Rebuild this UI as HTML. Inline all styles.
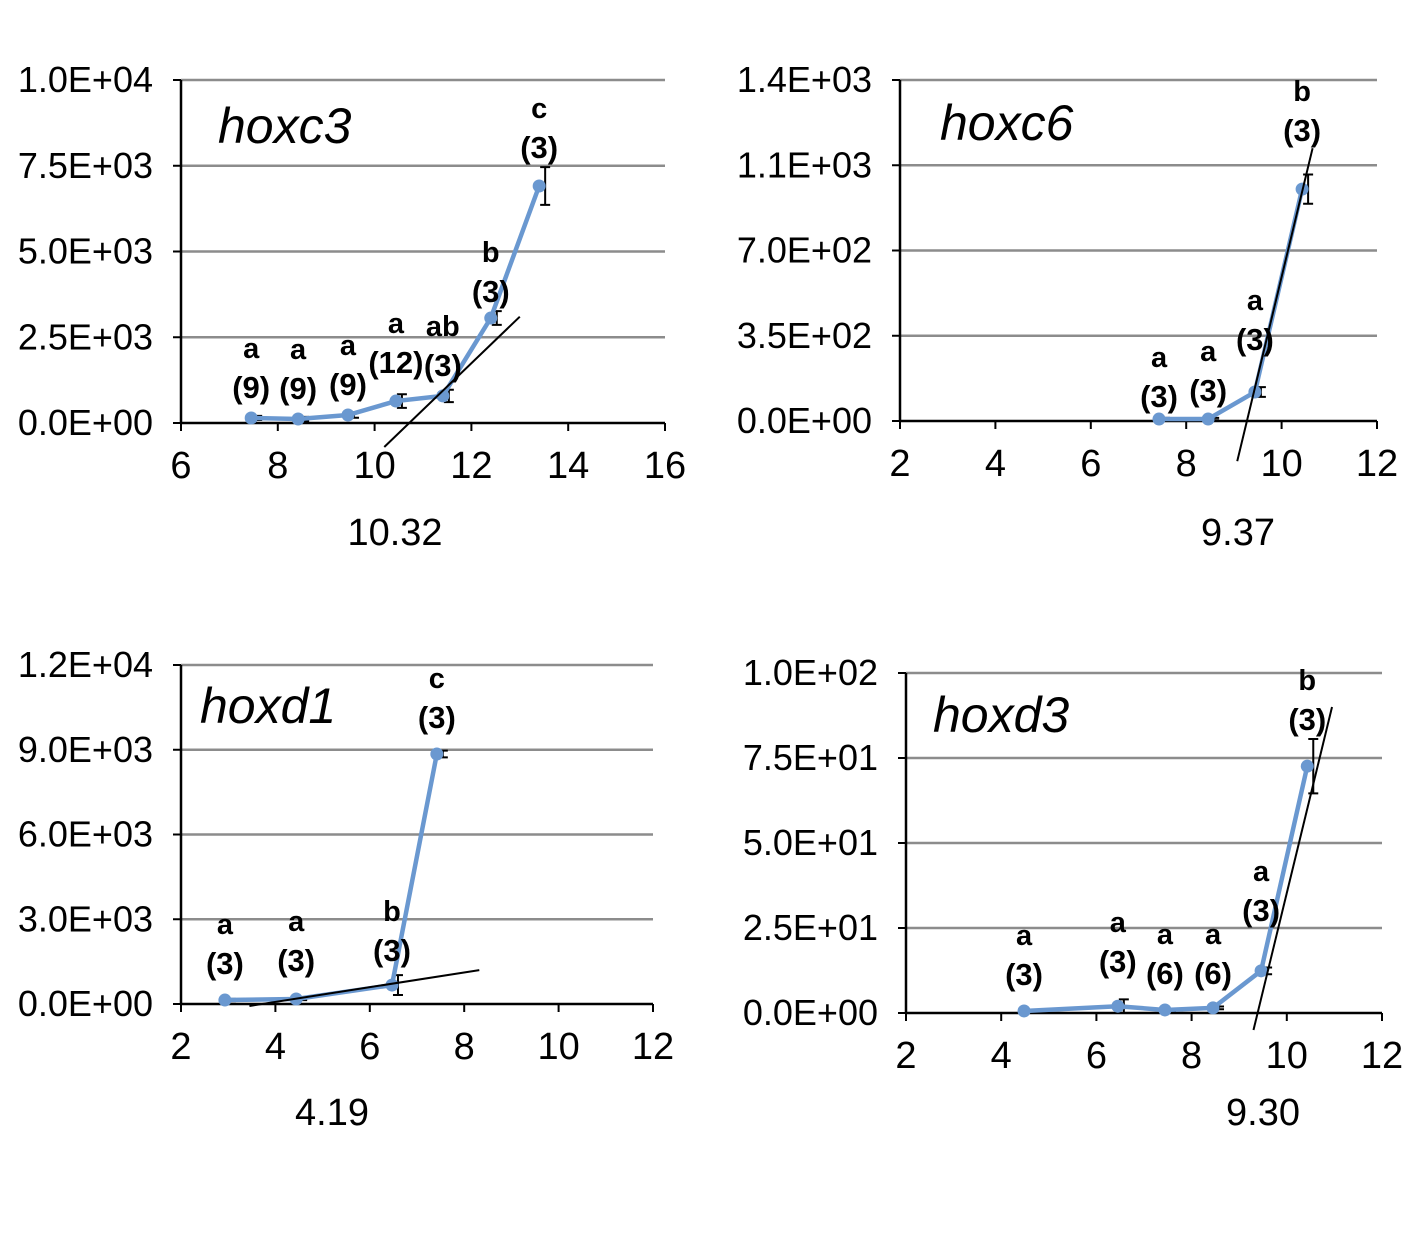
<!DOCTYPE html>
<html><head><meta charset="utf-8"><style>
body{margin:0;background:#fff;}
svg text{font-family:"Liberation Sans",sans-serif;}
</style></head><body>
<svg id="c" width="1418" height="1240"></svg>
<script>
// hoxc3
const c3X=[7.45,8.42,9.45,10.44,11.41,12.4,13.4];
const c3Y=[146,117,233,640,790,3060,6910];
const c3Err=[60,60,80,200,180,200,550];
const c3Let=["a","a","a","a","ab","b","c"];
const c3N=["(9)","(9)","(9)","(12)","(3)","(3)","(3)"];
const c3Ticks=["0.0E+00","2.5E+03","5.0E+03","7.5E+03","1.0E+04"];
// hoxc6
const c6X=[7.43,8.46,9.44,10.43];
const c6Y=[8,8,119,952];
const c6Err=[5,5,20,60];
const c6Let=["a","a","a","b"];
const c6N=["(3)","(3)","(3)","(3)"];
const c6Ticks=["0.0E+00","3.5E+02","7.0E+02","1.1E+03","1.4E+03"];
// hoxd1
const d1X=[2.93,4.44,6.47,7.42];
const d1Y=[140,177,670,8850];
const d1Err=[40,40,350,120];
const d1Let=["a","a","b","c"];
const d1N=["(3)","(3)","(3)","(3)"];
const d1Ticks=["0.0E+00","3.0E+03","6.0E+03","9.0E+03","1.2E+04"];
// hoxd3
const d3X=[4.48,6.45,7.44,8.45,9.46,10.43];
const d3Y=[0.6,2,0.9,1.5,12.4,72.6];
const d3Err=[0.3,2,0.3,0.4,1,8];
const d3Let=["a","a","a","a","a","b"];
const d3N=["(3)","(3)","(6)","(6)","(3)","(3)"];
const d3Ticks=["0.0E+00","2.5E+01","5.0E+01","7.5E+01","1.0E+02"];

const panels=[
 {name:"hoxc3",x0:181,x1:665,y0:423,y1:80,xmin:6,xmax:16,xstep:2,ymax:10000,X:c3X,Y:c3Y,E:c3Err,L:c3Let,N:c3N,T:c3Ticks,
  tan:[[10.2,-700],[13.0,3100]],val:"10.32",vx:395,vy:545,tx:218,ty:143,lift:[30,30,30,38,30,26,38]},
 {name:"hoxc6",x0:900,x1:1377,y0:421,y1:80,xmin:2,xmax:12,xstep:2,ymax:1400,X:c6X,Y:c6Y,E:c6Err,L:c6Let,N:c6N,T:c6Ticks,
  tan:[[9.07,-165],[10.65,1120]],val:"9.37",vx:1238,vy:545,tx:940,ty:140,lift:[22,28,52,58]},
 {name:"hoxd1",x0:181,x1:653,y0:1004,y1:665,xmin:2,xmax:12,xstep:2,ymax:12000,X:d1X,Y:d1Y,E:d1Err,L:d1Let,N:d1N,T:d1Ticks,
  tan:[[3.45,-70],[8.32,1200]],val:"4.19",vx:332,vy:1125,tx:200,ty:723,lift:[36,38,34,36]},
 {name:"hoxd3",x0:906,x1:1382,y0:1013,y1:673,xmin:2,xmax:12,xstep:2,ymax:100,X:d3X,Y:d3Y,E:d3Err,L:d3Let,N:d3N,T:d3Ticks,
  tan:[[9.3,-5],[10.95,90]],val:"9.30",vx:1263,vy:1125,tx:933,ty:732,lift:[36,44,36,34,60,46]}
];
const NS="http://www.w3.org/2000/svg";
const svg=document.getElementById('c');
function mk(tag,at,parent,txt){const e=document.createElementNS(NS,tag);for(const k in at)e.setAttribute(k,at[k]);if(txt!==undefined)e.textContent=txt;(parent||svg).appendChild(e);return e;}
panels.forEach(p=>{
 const g=mk('g',{});
 
 
 const sx=v=>p.x0+(v-p.xmin)/(p.xmax-p.xmin)*(p.x1-p.x0);
 const sy=v=>p.y0-v/p.ymax*(p.y0-p.y1);
 const nT=p.T.length-1;
 p.T.forEach((t,i)=>{
  const yy=p.y0-(p.y0-p.y1)*i/nT;
  if(i>0){const gl=mk('line',{x1:p.x0,x2:p.x1,y1:yy,y2:yy,stroke:'#8c8c8c','stroke-width':2.5},g);
   }
  mk('line',{x1:p.x0-8,x2:p.x0,y1:yy,y2:yy,stroke:'#000','stroke-width':2},g);
  const tl=mk('text',{x:p.x0-28,y:yy+12,'text-anchor':'end','font-size':36},g,t);
  
 });
 const ya=mk('line',{x1:p.x0,x2:p.x0,y1:p.y1,y2:p.y0,stroke:'#000','stroke-width':2.5},g);
 
 const xa=mk('line',{x1:p.x0,x2:p.x1,y1:p.y0,y2:p.y0,stroke:'#000','stroke-width':2.5},g);
 
 for(let v=p.xmin;v<=p.xmax;v+=p.xstep){
  const xx=sx(v);
  mk('line',{x1:xx,x2:xx,y1:p.y0,y2:p.y0+8,stroke:'#000','stroke-width':2},g);
  const xl=mk('text',{x:xx,y:p.y0+55,'text-anchor':'middle','font-size':38},g,String(v));
  
 }
 const ti=mk('text',{x:p.tx,y:p.ty,'font-size':50,'font-style':'italic'},g,p.name);
 
 const vl=mk('text',{x:p.vx,y:p.vy,'text-anchor':'middle','font-size':38},g,p.val);
 
 p.X.forEach((x,i)=>{
  const xx=sx(x),a=sy(p.Y[i]+p.E[i]),b=sy(Math.max(0,p.Y[i]-p.E[i]));
  const eb=mk('path',{d:`M${xx+6},${a}V${b}M${xx+1},${a}H${xx+11}M${xx+1},${b}H${xx+11}`,stroke:'#000','stroke-width':2,fill:'none'},g);
  
 });
 const ln=mk('polyline',{points:p.X.map((x,i)=>sx(x)+','+sy(p.Y[i])).join(' '),fill:'none',stroke:'#6a98d0','stroke-width':4.5},g);
 
 p.X.forEach((x,i)=>{
  const pt=mk('circle',{cx:sx(x),cy:sy(p.Y[i]),r:6.5,fill:'#6a98d0'},g);
  
  const ly=sy(p.Y[i])-p.lift[i];
  const nl=mk('text',{x:sx(x),y:ly+10,'text-anchor':'middle','font-size':31,'font-weight':'bold'},g,p.N[i]);
  
  const ll=mk('text',{x:sx(x),y:ly-30,'text-anchor':'middle','font-size':29,'font-weight':'bold'},g,p.L[i]);
  
 });
 const t=p.tan;
 const tl=mk('line',{x1:sx(t[0][0]),y1:sy(t[0][1]),x2:sx(t[1][0]),y2:sy(t[1][1]),stroke:'#000','stroke-width':2},g);
 
});
</script>
</body></html>
